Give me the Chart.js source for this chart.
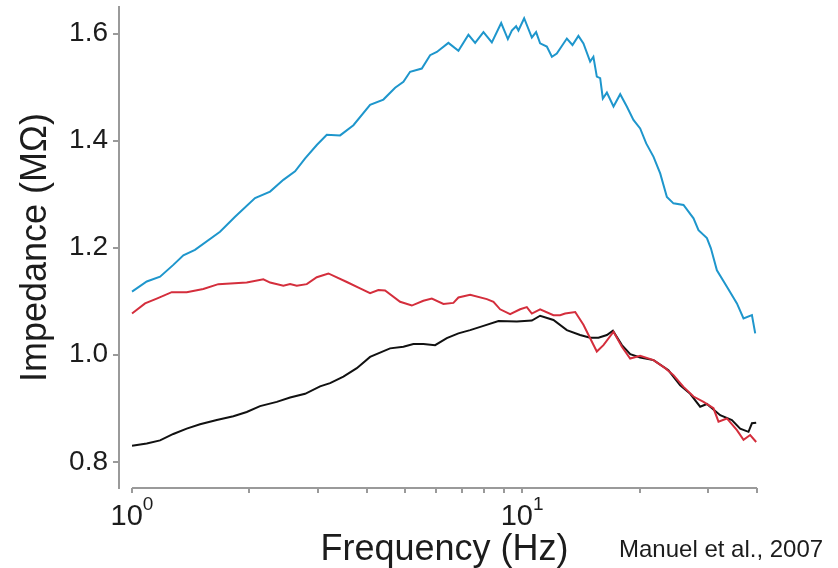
<!DOCTYPE html>
<html lang="en">
<head>
  <meta charset="UTF-8">
  <title>Impedance vs Frequency</title>
  <script src="https://cdn.jsdelivr.net/npm/chart.js"></script>
  <style>
    html, body { margin: 0; padding: 0; background: #fff; }
    #wrap { width: 838px; height: 568px; }
  </style>
</head>
<body>
  <div id="wrap"><canvas id="impChart" width="838" height="568"></canvas></div>

  <script>
    // frequency (Hz) / impedance (MOhm) for each trace
    const blueFreq = [1.0, 1.091, 1.180, 1.276, 1.354, 1.450, 1.681, 1.837, 2.067, 2.259, 2.443, 2.618, 2.778, 2.976, 3.157, 3.415, 3.694, 4.076, 4.409, 4.725, 4.962, 5.162, 5.531, 5.809, 6.044, 6.471, 6.866, 7.284, 7.578, 7.959, 8.363, 8.837, 9.192, 9.410, 9.652, 9.784, 10.12, 10.59, 10.86, 11.12, 11.57, 11.92, 12.27, 13.02, 13.46, 13.94, 14.36, 14.94, 15.23, 15.54, 15.85, 16.10, 16.49, 17.15, 17.84, 18.55, 19.29, 20.07, 20.80, 21.72, 22.59, 23.50, 24.43, 25.92, 27.50, 28.32, 29.76, 30.47, 31.57, 33.49, 35.53, 36.94, 38.82, 39.58];
    const blueImp = [1.118, 1.137, 1.146, 1.168, 1.186, 1.196, 1.230, 1.258, 1.293, 1.305, 1.327, 1.343, 1.367, 1.392, 1.411, 1.410, 1.429, 1.467, 1.477, 1.499, 1.510, 1.529, 1.535, 1.560, 1.566, 1.583, 1.568, 1.598, 1.583, 1.603, 1.584, 1.620, 1.590, 1.606, 1.614, 1.606, 1.629, 1.593, 1.603, 1.582, 1.576, 1.557, 1.563, 1.591, 1.579, 1.596, 1.582, 1.548, 1.557, 1.520, 1.517, 1.479, 1.490, 1.464, 1.487, 1.464, 1.439, 1.423, 1.395, 1.370, 1.339, 1.295, 1.283, 1.280, 1.255, 1.233, 1.218, 1.199, 1.158, 1.127, 1.096, 1.068, 1.074, 1.040];

    const redFreq = [1.0, 1.080, 1.157, 1.264, 1.381, 1.523, 1.664, 1.968, 2.171, 2.259, 2.443, 2.542, 2.644, 2.805, 2.976, 3.187, 3.553, 3.842, 4.076, 4.280, 4.453, 4.866, 5.214, 5.583, 5.868, 6.284, 6.665, 6.866, 7.357, 8.120, 8.444, 8.781, 9.316, 9.883, 10.28, 10.59, 11.12, 12.03, 12.51, 12.89, 13.68, 14.36, 14.94, 15.54, 16.16, 17.15, 18.02, 18.92, 20.07, 21.72, 23.26, 24.43, 25.92, 27.50, 29.17, 30.94, 31.87, 33.49, 35.53, 36.94, 38.42, 39.81];
    const redImp = [1.077, 1.096, 1.105, 1.117, 1.117, 1.123, 1.132, 1.135, 1.141, 1.135, 1.129, 1.132, 1.129, 1.132, 1.145, 1.152, 1.136, 1.124, 1.115, 1.121, 1.120, 1.099, 1.092, 1.101, 1.105, 1.095, 1.097, 1.107, 1.112, 1.104, 1.099, 1.085, 1.076, 1.085, 1.089, 1.077, 1.085, 1.074, 1.074, 1.077, 1.080, 1.056, 1.031, 1.006, 1.018, 1.043, 1.015, 0.993, 0.998, 0.990, 0.975, 0.962, 0.940, 0.922, 0.912, 0.900, 0.875, 0.881, 0.859, 0.841, 0.850, 0.837];

    const blackFreq = [1.0, 1.091, 1.180, 1.276, 1.381, 1.494, 1.649, 1.819, 1.968, 2.129, 2.350, 2.542, 2.778, 3.034, 3.219, 3.482, 3.769, 4.076, 4.586, 4.962, 5.263, 5.584, 5.983, 6.411, 6.866, 7.357, 7.959, 8.697, 9.691, 10.59, 11.12, 12.03, 13.02, 14.08, 14.94, 15.69, 16.49, 17.09, 18.02, 18.93, 20.07, 21.72, 23.72, 25.42, 26.97, 28.60, 29.76, 32.19, 34.49, 36.22, 38.04, 38.82, 39.81];
    const blackImp = [0.830, 0.834, 0.840, 0.852, 0.862, 0.870, 0.878, 0.885, 0.893, 0.904, 0.912, 0.920, 0.927, 0.941, 0.947, 0.959, 0.975, 0.996, 1.012, 1.015, 1.020, 1.020, 1.018, 1.031, 1.040, 1.046, 1.054, 1.063, 1.062, 1.064, 1.073, 1.065, 1.046, 1.037, 1.032, 1.032, 1.037, 1.045, 1.018, 1.001, 0.995, 0.990, 0.971, 0.943, 0.927, 0.903, 0.908, 0.887, 0.878, 0.862, 0.856, 0.872, 0.873];

    // axis ticks
    const xTicks = [1, 2, 3, 4, 5, 6, 7, 8, 9, 10, 20, 30, 40];
    const xDecades = [0, 1];
    const yTicks = [0.8, 1.0, 1.2, 1.4, 1.6];

    const axisGray = '#9a9a9a';
    const textColor = '#1c1c1c';
    const fontFam = '"Liberation Sans", Arial, sans-serif';

    Chart.defaults.font.family = fontFam;
    Chart.defaults.color = textColor;

    const toPoints = (fs, vs) => fs.map((f, i) => ({ x: f, y: vs[i] }));

    // x axis line, decade labels with exponents, x title, source note
    const axisDecor = {
      id: 'axisDecor',
      afterDraw(chart) {
        const { ctx, chartArea, scales: { x } } = chart;
        const xStart = x.getPixelForValue(xTicks[0]);
        const xEnd = x.getPixelForValue(xTicks[xTicks.length - 1]);
        ctx.save();
        ctx.strokeStyle = axisGray;
        ctx.lineWidth = 2;
        ctx.beginPath();
        ctx.moveTo(xStart, chartArea.bottom);
        ctx.lineTo(xEnd, chartArea.bottom);
        ctx.stroke();

        ctx.fillStyle = textColor;
        ctx.textBaseline = 'alphabetic';
        ctx.textAlign = 'left';
        xDecades.forEach(e => {
          const px = x.getPixelForValue(Math.pow(10, e));
          ctx.font = '29px ' + fontFam;
          const w1 = ctx.measureText('10').width;
          ctx.font = '19px ' + fontFam;
          const w2 = ctx.measureText(String(e)).width;
          const x0 = px - (w1 + w2) / 2;
          ctx.font = '29px ' + fontFam;
          ctx.fillText('10', x0, chartArea.bottom + 37);
          ctx.font = '19px ' + fontFam;
          ctx.fillText(String(e), x0 + w1, chartArea.bottom + 22);
        });

        ctx.font = '36px ' + fontFam;
        ctx.textAlign = 'center';
        ctx.fillText('Frequency (Hz)', (xStart + xEnd) / 2, chartArea.bottom + 72);

        ctx.font = '24px ' + fontFam;
        ctx.textAlign = 'left';
        ctx.fillText('Manuel et al., 2007', 619, 557);
        ctx.restore();
      }
    };

    new Chart(document.getElementById('impChart').getContext('2d'), {
      type: 'line',
      data: {
        datasets: [
          { data: toPoints(blueFreq, blueImp), borderColor: '#1e96cc', borderWidth: 2, pointRadius: 0, tension: 0 },
          { data: toPoints(redFreq, redImp), borderColor: '#d42e3c', borderWidth: 2, pointRadius: 0, tension: 0 },
          { data: toPoints(blackFreq, blackImp), borderColor: '#111111', borderWidth: 2, pointRadius: 0, tension: 0 }
        ]
      },
      options: {
        responsive: false,
        animation: false,
        layout: { padding: { top: 7, right: 81, left: 0, bottom: 0 } },
        plugins: { legend: { display: false }, tooltip: { enabled: false } },
        scales: {
          x: {
            type: 'logarithmic',
            min: 0.926,
            max: 40,
            border: { display: false },
            grid: { drawOnChartArea: false, drawTicks: true, tickLength: 5, color: axisGray, lineWidth: 2 },
            ticks: { autoSkip: false, maxRotation: 0, callback: () => '' },
            afterBuildTicks: s => { s.ticks = xTicks.map(v => ({ value: v })); },
            afterFit: s => { s.height = 80; s.paddingLeft = 0; s.paddingRight = 0; }
          },
          y: {
            min: 0.751,
            max: 1.65,
            border: { display: true, color: axisGray, width: 2 },
            grid: { drawOnChartArea: false, drawTicks: true, tickLength: 6, color: axisGray, lineWidth: 2 },
            ticks: { padding: 5, font: { size: 28 }, callback: v => Number(v).toFixed(1) },
            afterBuildTicks: s => { s.ticks = yTicks.map(v => ({ value: v })); },
            afterFit: s => { s.width = 119; s.paddingTop = 0; s.paddingBottom = 0; },
            title: { display: true, text: 'Impedance (MΩ)', font: { size: 36 }, padding: { top: 14, bottom: 0 } }
          }
        }
      },
      plugins: [axisDecor]
    });
  </script>
</body>
</html>
